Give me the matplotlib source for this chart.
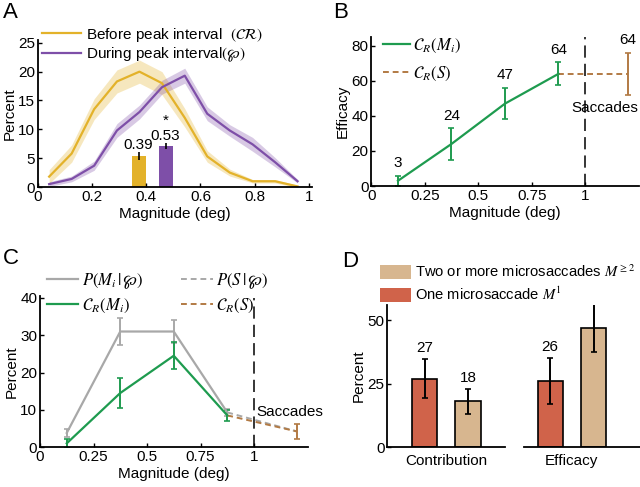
import matplotlib
matplotlib.use("Agg")
import matplotlib.pyplot as plt
from matplotlib.patches import Patch
import numpy as np

plt.rcParams['font.family'] = ['Liberation Sans', 'DejaVu Sans']
plt.rcParams['mathtext.fontset'] = 'stix'
plt.rcParams['font.size'] = 11

# ---------------- data ----------------
# Panel A
a_x = [0.042, 0.125, 0.208, 0.292, 0.375, 0.458, 0.542, 0.625, 0.708, 0.792, 0.875, 0.958]
a_before = [1.8, 5.8, 13.5, 18.3, 20.0, 18.0, 12.0, 5.3, 2.5, 1.0, 1.0, 0.1]
a_before_err = [1.2, 1.5, 1.8, 2.0, 2.0, 2.0, 1.6, 1.0, 0.6, 0.3, 0.3, 0.2]
a_during = [0.5, 1.4, 3.7, 9.8, 13.0, 17.3, 19.3, 12.7, 9.8, 7.4, 4.3, 1.0]
a_during_err = [0.4, 0.5, 0.8, 1.2, 1.2, 1.2, 1.3, 1.2, 1.0, 1.2, 0.8, 0.3]
a_bar_pos = [0.373, 0.473]
a_bar_h = [5.3, 7.1]
a_bar_err = [0.7, 0.5]
a_bar_labels = ['0.39', '0.53']

# Panel B
b_x = [0.125, 0.375, 0.625, 0.875]
b_eff = [3, 24, 47, 64]
b_err = [3, 9, 9, 6.5]
b_sacc_x = [0.875, 1.2]
b_sacc_y = [64, 64]
b_sacc_err = 12

# Panel C
c_x = [0.125, 0.375, 0.625, 0.875]
c_p = [3.8, 31.0, 31.0, 9.3]
c_p_err = [1.0, 3.5, 3.2, 1.0]
c_e = [1.0, 14.5, 24.5, 8.5]
c_e_err = [1.2, 4.0, 3.6, 1.5]
c_sacc_x = [0.875, 1.2]
c_sacc_p = [9.3, 4.2]
c_sacc_e = [8.5, 4.2]
c_sacc_err = 2.0

# Panel D
d_groups = ['Contribution', 'Efficacy']
d_one = [27, 26]
d_one_err = [7.8, 9.2]
d_two = [18, 47]
d_two_err = [4.9, 9.4]

YEL = '#E3B22A'
PUR = '#7E4FA8'
GRN = '#1E9B4F'
GRY = '#A8A8A8'
BRN = '#B27A44'
RED = '#D0634A'
TAN = '#D7B68F'

fig = plt.figure(figsize=(6.4, 4.87), dpi=100)

def style(ax):
    for s in ['top', 'right']:
        ax.spines[s].set_visible(False)
    for s in ['left', 'bottom']:
        ax.spines[s].set_linewidth(1.3)
    ax.tick_params(direction='in', length=3, width=1, labelsize=11, pad=2)

# ---------------- A ----------------
axA = fig.add_axes([0.059, 0.616, 0.428, 0.302])
style(axA)
ax_ = np.array(a_x)
axA.fill_between(ax_, np.array(a_before) - np.array(a_before_err), np.array(a_before) + np.array(a_before_err),
                 color=YEL, alpha=0.3, lw=0)
axA.fill_between(ax_, np.array(a_during) - np.array(a_during_err), np.array(a_during) + np.array(a_during_err),
                 color=PUR, alpha=0.3, lw=0)
lA1, = axA.plot(a_x, a_before, color=YEL, lw=1.6)
lA2, = axA.plot(a_x, a_during, color=PUR, lw=1.6)
axA.bar(a_bar_pos, a_bar_h, width=0.05, color=[YEL, PUR])
axA.errorbar(a_bar_pos, a_bar_h, yerr=a_bar_err, fmt='none', ecolor='black', elinewidth=1.2, capsize=0)
for xp, h, e, lab in zip(a_bar_pos, a_bar_h, a_bar_err, a_bar_labels):
    axA.text(xp - 0.003, h + e + 0.1, lab, ha='center', va='bottom', fontsize=11)
axA.text(a_bar_pos[1], a_bar_h[1] + a_bar_err[1] + 2.6, '*', ha='center', va='bottom', fontsize=11)
axA.set_xlim(0, 1.01)
axA.set_ylim(0, 25.5)
axA.set_xticks([0, 0.2, 0.4, 0.6, 0.8, 1])
axA.set_xticklabels(['0', '0.2', '0.4', '0.6', '0.8', '1'])
axA.set_yticks([0, 5, 10, 15, 20, 25])
axA.set_xlabel('Magnitude (deg)', fontsize=11, labelpad=2)
axA.set_ylabel('Percent', fontsize=11, labelpad=1)
fig.legend([lA1, lA2], [r'Before peak interval  $(\mathcal{CR})$', r'During peak interval$(\wp)$'],
           loc='upper left', bbox_to_anchor=(0.065, 0.947), frameon=False, fontsize=11,
           handlelength=2.6, handletextpad=0.3, labelspacing=0.15, borderpad=0, borderaxespad=0)
fig.text(0.005, 0.995, 'A', fontsize=16, va='top', ha='left')

# ---------------- B ----------------
axB = fig.add_axes([0.580, 0.618, 0.418, 0.306])
style(axB)
lB1 = axB.errorbar(b_x, b_eff, yerr=b_err, color=GRN, lw=1.6, elinewidth=1.4, capsize=2.5, capthick=1.2)
lB2, = axB.plot(b_sacc_x, b_sacc_y, color=BRN, lw=1.4, ls=(0, (3, 2)))
axB.errorbar([b_sacc_x[1]], [b_sacc_y[1]], yerr=b_sacc_err, fmt='none', ecolor=BRN, elinewidth=1.4,
             capsize=2, capthick=1.2)
axB.axvline(1, color='black', lw=1.1, ls=(0, (8, 4)))
for xp, v, e in zip(b_x, b_eff, b_err):
    axB.annotate(str(v), (xp, v + e), xytext=(0, 4), textcoords='offset points', ha='center', va='bottom', fontsize=11)
axB.annotate(str(b_sacc_y[1]), (b_sacc_x[1], b_sacc_y[1] + b_sacc_err), xytext=(0, 4), textcoords='offset points',
             ha='center', va='bottom', fontsize=11)
axB.text(1.09, 44.5, 'Saccades', ha='center', va='center', fontsize=11)
axB.set_xlim(0, 1.25)
axB.set_ylim(0, 85)
axB.set_xticks([0, 0.25, 0.5, 0.75, 1])
axB.set_xticklabels(['0', '0.25', '0.5', '0.75', '1'])
axB.set_yticks([0, 20, 40, 60, 80])
axB.set_xlabel('Magnitude (deg)', fontsize=11, labelpad=2)
axB.set_ylabel('Efficacy', fontsize=11, labelpad=1)
axB.legend([lB1[0], lB2], [r'$\mathcal{C}_R(M_i)$', r'$\mathcal{C}_R(S)$'], loc='upper left',
           bbox_to_anchor=(0.045, 1.0), frameon=False, fontsize=12, handlelength=1.6, handletextpad=0.2,
           labelspacing=0.6, borderpad=0, borderaxespad=0)
fig.text(0.52, 0.995, 'B', fontsize=16, va='top', ha='left')

# ---------------- C ----------------
axC = fig.add_axes([0.0625, 0.082, 0.418, 0.31])
style(axC)
lC1 = axC.errorbar(c_x, c_p, yerr=c_p_err, color=GRY, lw=1.6, elinewidth=1.4, capsize=2.5, capthick=1.2)
lC2 = axC.errorbar(c_x, c_e, yerr=c_e_err, color=GRN, lw=1.6, elinewidth=1.4, capsize=2.5, capthick=1.2)
lC3, = axC.plot(c_sacc_x, c_sacc_p, color=GRY, lw=1.4, ls=(0, (3, 2)))
lC4, = axC.plot(c_sacc_x, c_sacc_e, color=BRN, lw=1.4, ls=(0, (3, 2)))
axC.errorbar([c_sacc_x[1]], [c_sacc_e[1]], yerr=c_sacc_err, fmt='none', ecolor=BRN, elinewidth=1.4,
             capsize=2, capthick=1.2)
axC.axvline(1, ymax=0.99, color='black', lw=1.1, ls=(0, (8, 4)))
axC.text(1.01, 9.4, 'Saccades', ha='left', va='center', fontsize=11)
axC.set_xlim(0, 1.25)
axC.set_ylim(0, 40.5)
axC.set_xticks([0, 0.25, 0.5, 0.75, 1])
axC.set_xticklabels(['0', '0.25', '0.5', '0.75', '1'])
axC.set_yticks([0, 10, 20, 30, 40])
axC.set_xlabel('Magnitude (deg)', fontsize=11, labelpad=2)
axC.set_ylabel('Percent', fontsize=11, labelpad=1)
axC.legend([lC1[0], lC2[0], lC3, lC4],
           [r'$P(M_i\,|\,\wp)$', r'$\mathcal{C}_R(M_i)$', r'$P(S\,|\,\wp)$', r'$\mathcal{C}_R(S)$'],
           loc='upper left', bbox_to_anchor=(0.025, 1.165), ncol=2, frameon=False, fontsize=12,
           handlelength=1.9, handletextpad=0.2, labelspacing=0.35, columnspacing=2.3, borderpad=0,
           borderaxespad=0)
fig.text(0.005, 0.49, 'C', fontsize=16, va='top', ha='left')

# ---------------- D ----------------
D_YMAX = 56
axD1 = fig.add_axes([0.605, 0.082, 0.184, 0.292])
axD2 = fig.add_axes([0.819, 0.082, 0.181, 0.292])
for i, axD in enumerate([axD1, axD2]):
    style(axD)
    axD.bar([0], [d_one[i]], width=0.58, color=RED, edgecolor='black', lw=1.2)
    axD.bar([1], [d_two[i]], width=0.58, color=TAN, edgecolor='black', lw=1.2)
    axD.errorbar([0, 1], [d_one[i], d_two[i]], yerr=[d_one_err[i], d_two_err[i]], fmt='none',
                 ecolor='black', elinewidth=1.4, capsize=2, capthick=1.2)
    for xp, v, e in zip([0, 1], [d_one[i], d_two[i]], [d_one_err[i], d_two_err[i]]):
        axD.annotate(str(v), (xp, v + e), xytext=(0, 3), textcoords='offset points', ha='center',
                     va='bottom', fontsize=11)
    axD.set_ylim(0, D_YMAX)
    axD.set_xticks([0.5])
    axD.set_xticklabels([d_groups[i]])
    axD.tick_params(axis='x', length=0, pad=5)
axD1.set_xlim(-0.862, 1.85)
axD2.set_xlim(-0.6, 2.07)
axD1.set_yticks([0, 25, 50])
axD1.set_ylabel('Percent', fontsize=11, labelpad=1)
axD2.spines['left'].set_visible(False)
axD2.set_yticks([])
fig.legend([Patch(facecolor=TAN), Patch(facecolor=RED)],
           [r'Two or more microsaccades $M^{\geq 2}$', r'One microsaccade $M^{1}$'],
           loc='upper left', bbox_to_anchor=(0.594, 0.46), frameon=False, fontsize=10.6,
           handlelength=2.1, handleheight=1.1, handletextpad=0.3, labelspacing=0.4, borderpad=0,
           borderaxespad=0)
fig.text(0.535, 0.485, 'D', fontsize=16, va='top', ha='left')

fig.savefig('out.png', dpi=100)
